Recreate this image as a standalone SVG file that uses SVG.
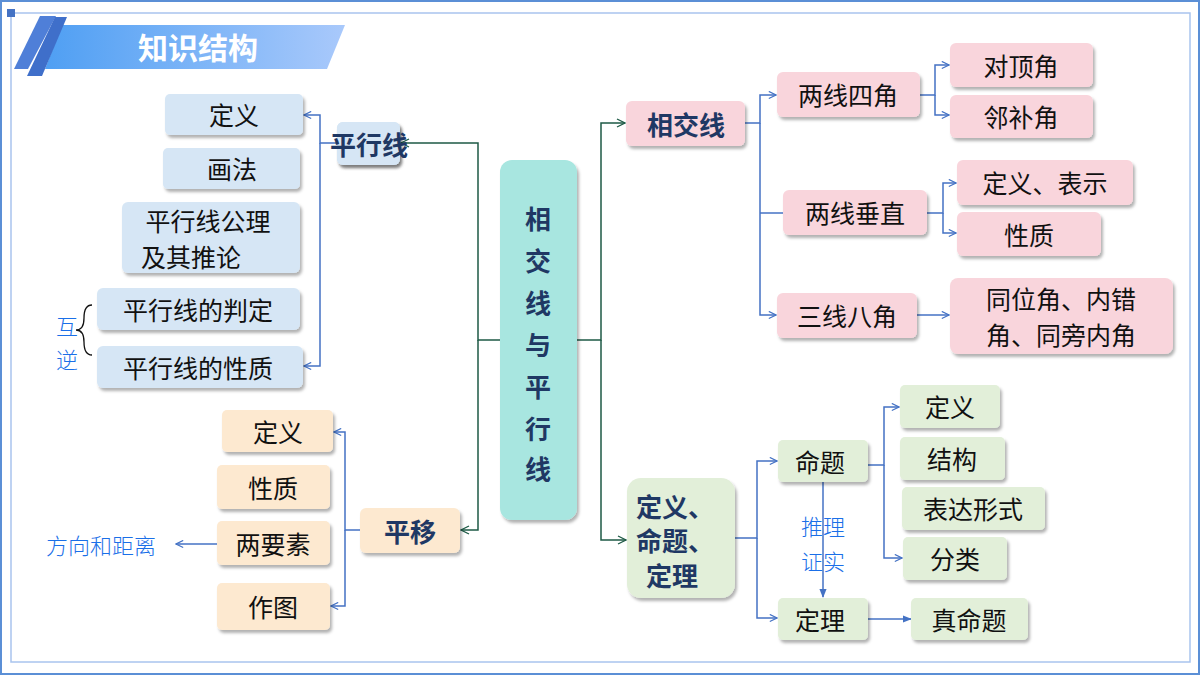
<svg xmlns="http://www.w3.org/2000/svg" width="1200" height="675" viewBox="0 0 1200 675">
<defs>
<filter id="sh" x="-10%" y="-10%" width="130%" height="140%"><feDropShadow dx="2" dy="3" stdDeviation="1.5" flood-color="#000" flood-opacity="0.3"/></filter>
<linearGradient id="tg" x1="0" x2="1"><stop offset="0" stop-color="#4f9ff3"/><stop offset="1" stop-color="#a9c9fb"/></linearGradient>
<marker id="ob" viewBox="0 0 10 10" refX="9" refY="5" markerWidth="9" markerHeight="9" orient="auto" markerUnits="userSpaceOnUse"><path d="M1,1 L9,5 L1,9" fill="none" stroke="#4472c4" stroke-width="1.3"/></marker>
<marker id="og" viewBox="0 0 10 10" refX="9" refY="5" markerWidth="10" markerHeight="10" orient="auto" markerUnits="userSpaceOnUse"><path d="M1,1 L9,5 L1,9" fill="none" stroke="#1e5a46" stroke-width="1.3"/></marker>
<marker id="fb" viewBox="0 0 10 10" refX="9" refY="5" markerWidth="9" markerHeight="9" orient="auto" markerUnits="userSpaceOnUse"><path d="M0,1 L10,5 L0,9 Z" fill="#4472c4"/></marker>
</defs>
<style>
text{font-family:"Noto Sans CJK SC","Noto Sans",sans-serif;text-anchor:middle;dominant-baseline:central}
.c{font-size:25px;fill:#111}
.p{font-size:26px;font-weight:bold;fill:#1f3864}
.b{fill:#d6e6f5;filter:url(#sh)}
.pe{fill:#fde9d0;filter:url(#sh)}
.pk{fill:#f9d5dc;filter:url(#sh)}
.gr{fill:#e2efd9;filter:url(#sh)}
.lb{fill:none;stroke:#4472c4;stroke-width:1.5}
.lg{fill:none;stroke:#1e5a46;stroke-width:1.5}
.hw{font-size:22px;fill:#1a6fe8;font-weight:300}
</style>
<rect x="0" y="0" width="1200" height="675" fill="#fff"/>
<rect x="1" y="1" width="1198" height="673" fill="none" stroke="#5b8fd6" stroke-width="2"/>
<rect x="11" y="13" width="1179" height="649" fill="none" stroke="#a9c4ee" stroke-width="1.5"/>
<rect x="7" y="9" width="8" height="8" fill="#4472c4"/>
<g id="title">
<polygon points="62,25 345,25 327,69 45,69" fill="url(#tg)"/>
<polygon points="40,16 56,16 28,69 14,69" fill="#4f7fd8"/>
<polygon points="55,17 67,17 42,76 27,76" fill="#3f6fca"/>
<text x="198" y="46" font-size="30" font-weight="bold" fill="#fff">知识结构</text>
</g>
<g id="connectors">
<path class="lg" d="M500,340 H478 V143 H401" marker-end="url(#og)"/>
<path class="lg" d="M478,340 V530 H461" marker-end="url(#og)"/>
<path class="lg" d="M577,340 H601 V123 H625" marker-end="url(#og)"/>
<path class="lg" d="M601,340 V540 H626" marker-end="url(#og)"/>
<path class="lb" d="M337,143 H320 V115 H304" marker-end="url(#ob)"/>
<path class="lb" d="M320,143 V366 H304" marker-end="url(#ob)"/>
<path class="lb" d="M360,530 H345 V432 H334" marker-end="url(#ob)"/>
<path class="lb" d="M345,530 V606 H331" marker-end="url(#ob)"/>
<path class="lb" d="M217,544 H176" marker-end="url(#ob)"/>
<path class="lb" d="M745,123 H760 V95 H776" marker-end="url(#ob)"/>
<path class="lb" d="M760,123 V315 H776" marker-end="url(#ob)"/>
<path class="lb" d="M760,213 H783"/>
<path class="lb" d="M920,95 H935 V65 H949" marker-end="url(#ob)"/>
<path class="lb" d="M935,95 V115 H949" marker-end="url(#ob)"/>
<path class="lb" d="M927,213 H943 V183 H956" marker-end="url(#ob)"/>
<path class="lb" d="M943,213 V233 H956" marker-end="url(#ob)"/>
<path class="lb" d="M917,315 H949" marker-end="url(#ob)"/>
<path class="lb" d="M735,538 H757 V461 H777" marker-end="url(#ob)"/>
<path class="lb" d="M757,538 V618 H777" marker-end="url(#ob)"/>
<path class="lb" d="M868,465 H884 V407 H899" marker-end="url(#ob)"/>
<path class="lb" d="M884,465 V558 H902" marker-end="url(#ob)"/>
<path class="lb" d="M823,482 V597" marker-end="url(#fb)"/>
<path class="lb" d="M868,619 H911" marker-end="url(#fb)"/>
<path d="M92,305 Q84,305 84,318 Q84,330 76,330 Q84,330 84,342 Q84,355 92,355" fill="none" stroke="#111" stroke-width="1.3"/>
</g>
<text class="hw" x="67" y="325">互</text>
<text class="hw" x="67" y="358">逆</text>
<text class="hw" x="101" y="544">方向和距离</text>
<text class="hw" x="823" y="525">推理</text>
<text class="hw" x="823" y="560">证实</text>
<g id="center"><rect x="500" y="160" width="77" height="360" rx="12" fill="#a8e6e0" filter="url(#sh)"/>
<text class="p" font-size="30" x="538"><tspan x="538" y="217">相</tspan><tspan x="538" y="259">交</tspan><tspan x="538" y="301">线</tspan><tspan x="538" y="343">与</tspan><tspan x="538" y="385">平</tspan><tspan x="538" y="427">行</tspan><tspan x="538" y="467">线</tspan></text></g>
<g id="pxx"><rect class="b" x="337" y="122" width="63" height="43" rx="6"/><text class="p" x="398" y="143"></text></g>
<g id="pingxingxian"><rect class="b" x="337" y="122" width="63" height="43" rx="6"/><text class="p" x="369" y="143" font-size="24">平行线</text></g>
<g id="n1"><rect class="b" x="165" y="94" width="138" height="41" rx="5"/><text class="c" x="234" y="114">定义</text></g>
<g id="n2"><rect class="b" x="163" y="148" width="137" height="41" rx="5"/><text class="c" x="232" y="168">画法</text></g>
<g id="n3"><rect class="b" x="122" y="202" width="178" height="71" rx="6"/><text class="c" x="208" y="220">平行线公理</text><text class="c" x="191" y="256">及其推论</text></g>
<g id="n4"><rect class="b" x="97" y="288" width="203" height="42" rx="6"/><text class="c" x="198" y="309">平行线的判定</text></g>
<g id="n5"><rect class="b" x="97" y="346" width="206" height="42" rx="6"/><text class="c" x="198" y="367">平行线的性质</text></g>
<g id="pingyi"><rect class="pe" x="360" y="508" width="100" height="45" rx="6"/><text class="p" x="410" y="530">平移</text></g>
<g id="m1"><rect class="pe" x="222" y="410" width="111" height="42" rx="5"/><text class="c" x="278" y="431">定义</text></g>
<g id="m2"><rect class="pe" x="217" y="465" width="113" height="44" rx="5"/><text class="c" x="273" y="487">性质</text></g>
<g id="m3"><rect class="pe" x="217" y="521" width="113" height="44" rx="5"/><text class="c" x="273" y="543">两要素</text></g>
<g id="m4"><rect class="pe" x="217" y="583" width="113" height="47" rx="5"/><text class="c" x="273" y="606">作图</text></g>
<g id="xiangjiao"><rect class="pk" x="626" y="101" width="119" height="45" rx="6"/><text class="p" x="686" y="123">相交线</text></g>
<g id="r1"><rect class="pk" x="777" y="72" width="143" height="45" rx="6"/><text class="c" x="848" y="94">两线四角</text></g>
<g id="r2"><rect class="pk" x="783" y="190" width="144" height="45" rx="6"/><text class="c" x="855" y="212">两线垂直</text></g>
<g id="r3"><rect class="pk" x="777" y="293" width="140" height="45" rx="6"/><text class="c" x="847" y="315">三线八角</text></g>
<g id="r11"><rect class="pk" x="950" y="43" width="143" height="44" rx="6"/><text class="c" x="1021" y="65">对顶角</text></g>
<g id="r12"><rect class="pk" x="950" y="95" width="143" height="43" rx="6"/><text class="c" x="1021" y="116">邻补角</text></g>
<g id="r21"><rect class="pk" x="957" y="160" width="176" height="45" rx="6"/><text class="c" x="1045" y="182">定义、表示</text></g>
<g id="r22"><rect class="pk" x="957" y="212" width="144" height="44" rx="6"/><text class="c" x="1029" y="234">性质</text></g>
<g id="r31"><rect class="pk" x="950" y="278" width="223" height="76" rx="8"/><text class="c" x="1061" y="298">同位角、内错</text><text class="c" x="1061" y="334">角、同旁内角</text></g>
<g id="dingyi"><rect class="gr" x="627" y="478" width="108" height="120" rx="14"/><text class="p" x="675" y="505">定义、</text><text class="p" x="675" y="539">命题、</text><text class="p" x="672" y="574">定理</text></g>
<g id="mingti"><rect class="gr" x="778" y="440" width="90" height="42" rx="5"/><text class="c" x="820" y="461">命题</text></g>
<g id="dingli"><rect class="gr" x="778" y="598" width="90" height="42" rx="5"/><text class="c" x="820" y="619">定理</text></g>
<g id="g1"><rect class="gr" x="900" y="385" width="100" height="43" rx="5"/><text class="c" x="950" y="406">定义</text></g>
<g id="g2"><rect class="gr" x="900" y="437" width="105" height="43" rx="5"/><text class="c" x="952" y="458">结构</text></g>
<g id="g3"><rect class="gr" x="902" y="487" width="143" height="43" rx="5"/><text class="c" x="973" y="508">表达形式</text></g>
<g id="g4"><rect class="gr" x="903" y="537" width="104" height="43" rx="5"/><text class="c" x="955" y="558">分类</text></g>
<g id="zhen"><rect class="gr" x="911" y="598" width="117" height="42" rx="5"/><text class="c" x="969" y="619">真命题</text></g>
</svg>
